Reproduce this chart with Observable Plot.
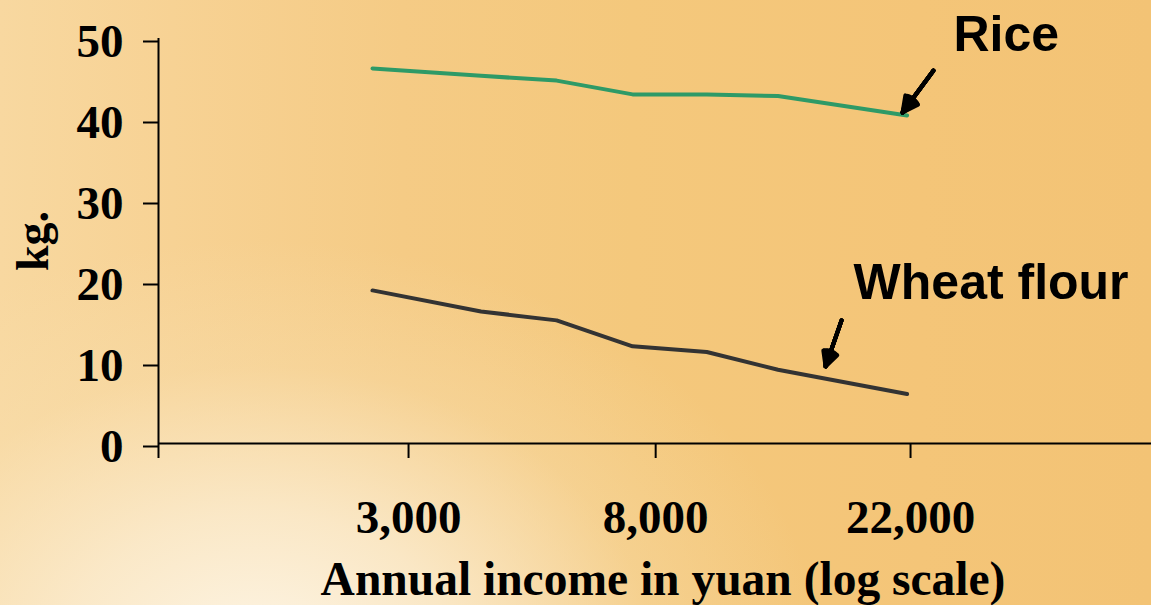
<!DOCTYPE html>
<html>
<head>
<meta charset="utf-8">
<script src="https://cdn.jsdelivr.net/npm/d3@7"></script>
<script src="https://cdn.jsdelivr.net/npm/@observablehq/plot@0.6"></script>
<style>
  html, body { margin: 0; padding: 0; width: 1151px; height: 605px; overflow: hidden; }
  body {
    background:
      radial-gradient(ellipse 560px 420px at 260px 660px, rgba(253,245,230,1) 0%, rgba(251,236,208,0.85) 35%, rgba(248,224,178,0.35) 70%, rgba(248,222,172,0) 100%),
      linear-gradient(90deg, #f8d8a0 0%, #f7d294 15%, #f5cb85 35%, #f4c87c 55%, #f4c578 80%, #f3c375 100%);
  }
  #chart svg { display: block; }
</style>
</head>
<body>
<div id="chart"></div>
<script>
// Annual income in yuan (log scale) for each group
const income = [2600, 4000, 5400, 7300, 9800, 13000, 21700];
// Consumption in kg
const rice  = [46.3, 45.4, 44.8, 43.1, 43.1, 42.9, 40.5];
const wheat = [18.9, 16.3, 15.2, 12.0, 11.3, 9.1, 6.1];

const xTicks = [3000, 8000, 22000];
const xTickLabels = ["3,000", "8,000", "22,000"];
const yTicks = [0, 10, 20, 30, 40, 50];
const xDomain = [1112, 57250];
const yDomain = [0, 50];

// annotation labels and arrows (data coordinates)
const labels = [
  {name: "Rice", x: 26090, y: 48.4},
  {name: "Wheat flour", x: 17550, y: 17.9}
];
const arrows = [
  {x1: 24100, y1: 46.05, x2: 21310, y2: 40.86},
  {x1: 16730, y1: 15.19, x2: 15700, y2: 9.51}
];

const riceData = income.map((x, i) => ({x, y: rice[i]}));
const wheatData = income.map((x, i) => ({x, y: wheat[i]}));
const xTickData = xTicks.map((x, i) => ({x, label: xTickLabels[i]}));

const serif = "'Liberation Serif', 'Times New Roman', serif";
const sans = "'Liberation Sans', Arial, sans-serif";

// shaft of each arrow
const arrowShaft = Plot.arrow(arrows, {x1: "x1", y1: "y1", x2: "x2", y2: "y2", stroke: "black",
  strokeWidth: 3.5, headLength: 0});
// several arrowheads with different angles, stacked to form a filled head
const arrowHeads = [54, 44, 34, 24, 14, 6].map(a =>
  Plot.arrow(arrows, {x1: "x1", y1: "y1", x2: "x2", y2: "y2", stroke: "black",
    strokeWidth: 4, headLength: 30, headAngle: a})
);

const chart = Plot.plot({
  width: 1151,
  height: 605,
  marginLeft: 158,
  marginRight: 0,
  marginTop: 38,
  marginBottom: 162,
  style: {background: "transparent", overflow: "visible"},
  x: {type: "log", domain: xDomain},
  y: {domain: yDomain},
  marks: [
    Plot.axisX({
      ticks: [xDomain[0], ...xTicks],
      tickFormat: null,
      text: null,
      tickSize: 15, strokeWidth: 2, stroke: "black",
      label: null
    }),
    Plot.text(xTickData, {x: "x", text: "label", frameAnchor: "bottom", dy: 89,
      lineAnchor: "bottom", fontSize: 47, fontWeight: "bold", fontFamily: serif, fill: "black"}),
    Plot.axisY({
      ticks: yTicks, tickSize: 15, tickPadding: 20, strokeWidth: 2,
      fontSize: 47, fontWeight: "bold", fontFamily: serif, fill: "black",
      dy: 3, label: null
    }),
    Plot.ruleY([yDomain[0]], {stroke: "black", strokeWidth: 2}),
    Plot.ruleX([xDomain[0]], {stroke: "black", strokeWidth: 2}),
    Plot.text(["kg."], {frameAnchor: "left", dx: -125, rotate: -90, fontSize: 46,
      fontWeight: "bold", fontFamily: serif, fill: "black", textAnchor: "middle", lineAnchor: "middle"}),
    Plot.text(["Annual income in yuan (log scale)"], {frameAnchor: "bottom", dx: 8, dy: 151,
      lineAnchor: "bottom", fontSize: 47.5, fontWeight: "bold", fontFamily: serif, fill: "black"}),
    Plot.line(riceData, {x: "x", y: "y", stroke: "#2e9a67", strokeWidth: 4}),
    Plot.line(wheatData, {x: "x", y: "y", stroke: "#333333", strokeWidth: 4}),
    arrowShaft,
    ...arrowHeads,
    Plot.text(labels, {x: "x", y: "y", text: "name", textAnchor: "start", lineAnchor: "bottom",
      fontSize: 50, fontWeight: "bold", fontFamily: sans, fill: "black"})
  ]
});
document.getElementById("chart").appendChild(chart);
</script>
</body>
</html>
